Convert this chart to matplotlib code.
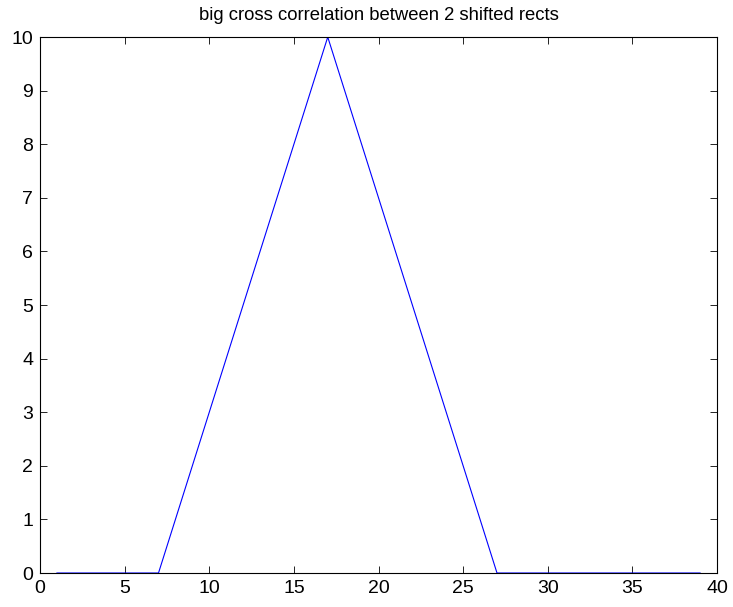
import numpy as np
import matplotlib
matplotlib.use('Agg')
import matplotlib.pyplot as plt

# cross correlation of two shifted rects (lags 1..39)
lags = list(range(1, 40))
xcorr = [0, 0, 0, 0, 0, 0, 0,
         1, 2, 3, 4, 5, 6, 7, 8, 9,
         10,
         9, 8, 7, 6, 5, 4, 3, 2, 1,
         0, 0, 0, 0, 0, 0, 0, 0, 0, 0, 0, 0, 0]

plt.rcParams['font.family'] = ['Liberation Sans', 'DejaVu Sans']

fig = plt.figure(figsize=(7.33, 6.07), dpi=100)
ax = fig.add_axes([0.0546, 0.056, 0.9236, 0.883])
ax.plot(lags, xcorr, color='#0000ff', linewidth=0.8)
ax.set_xlim(0, 40)
ax.set_ylim(0, 10)
ax.set_xticks(range(0, 41, 5))
ax.set_yticks(range(0, 11))
ax.tick_params(direction='in', top=True, right=True, labelsize=14, length=5, width=0.6, pad=5)
for s in ax.spines.values():
    s.set_linewidth(0.8)
ax.set_title('big cross correlation between 2 shifted rects', fontsize=13.3, pad=12)

fig.savefig('out.png', dpi=100)
